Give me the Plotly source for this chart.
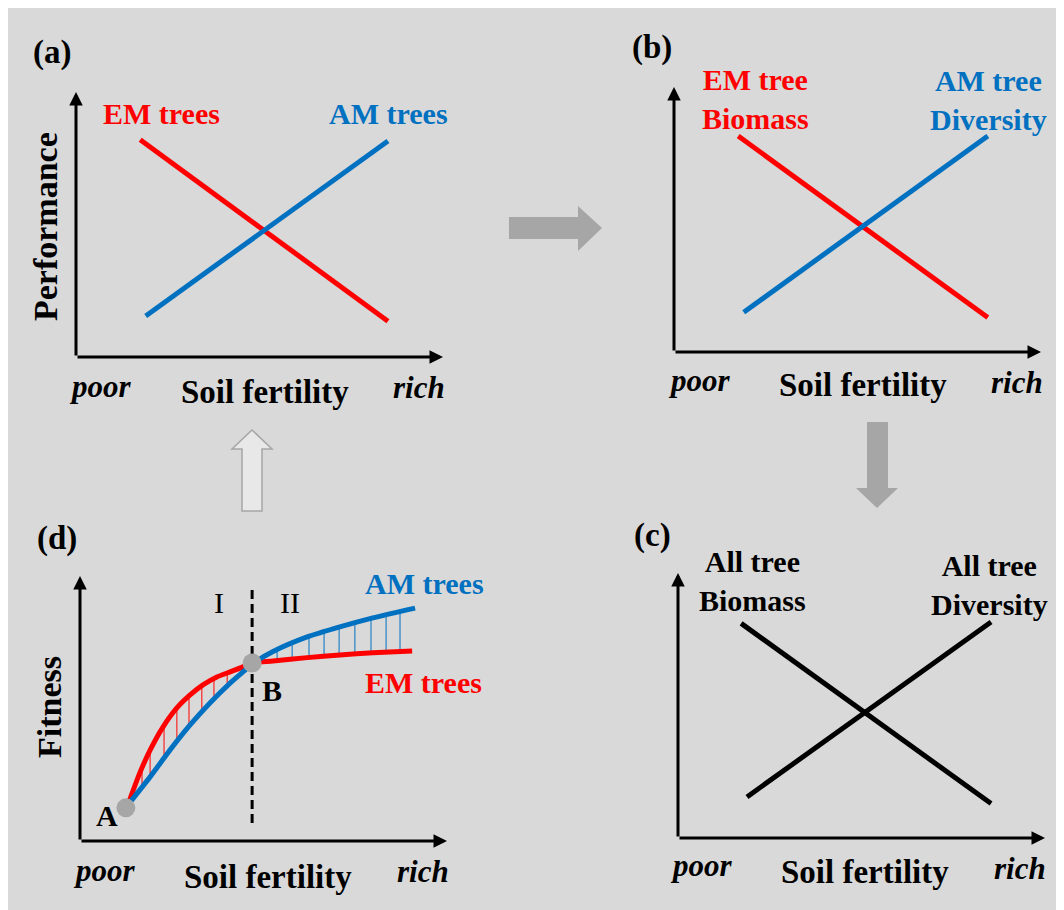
import numpy as np
import plotly.graph_objects as go

W, H = 1064, 910
RED = "#ff0000"
BLUE = "#0070c0"
GREY = "#a6a6a6"
SERIF = "Liberation Serif, Times New Roman, Times, serif"

# ---------------- data (panel units: soil fertility 0-10, response 0-10) -------------
# (a) performance
a_em_x = [1.75, 8.5]
a_em_y = [8.2, 1.35]
a_am_x = [1.9, 8.5]
a_am_y = [1.55, 8.15]
# (b) EM biomass / AM diversity
b_em_x = [1.75, 8.55]
b_em_y = [8.15, 1.3]
b_am_x = [1.9, 8.55]
b_am_y = [1.5, 8.15]
# (c) all-tree biomass / diversity
c_bio_x = [1.72, 8.53]
c_bio_y = [8.1, 1.3]
c_div_x = [1.88, 8.53]
c_div_y = [1.55, 8.15]
# (d) fitness curves
d_em_x = [1.3, 1.63, 1.91, 2.26, 2.64, 3.0, 3.35, 3.73, 4.09, 4.44, 4.69, 5.26, 6.19, 7.08, 7.98, 9.05]
d_em_y = [1.35, 2.57, 3.43, 4.30, 5.02, 5.51, 5.89, 6.19, 6.38, 6.57, 6.72, 6.79, 6.92, 7.02, 7.10, 7.17]
d_am_x = [1.3, 1.91, 2.45, 3.0, 3.54, 4.09, 4.44, 4.69, 5.26, 6.19, 7.08, 7.98, 9.13]
d_am_y = [1.35, 2.42, 3.43, 4.38, 5.21, 5.96, 6.38, 6.68, 7.15, 7.70, 8.08, 8.42, 8.79]
d_points_x = [1.25, 4.69]
d_points_y = [1.25, 6.72]
d_split_x = 4.69
d_split_y = [0.68, 9.58]
hatch_em_x = [1.69, 1.91, 2.29, 2.64, 2.97, 3.32, 3.65, 4.01]
hatch_am_x = [5.37, 5.78, 6.24, 6.65, 7.06, 7.49, 7.93, 8.34, 8.72]

# ---------------- layout helpers ----------------
OFF = 8            # page body margin
PW, PH = 367, 265  # panel axis size in px
origins = {"a": (76, 357), "b": (674, 352), "c": (678, 838), "d": (80, 841)}
axis_ids = {"a": "", "b": "2", "c": "3", "d": "4"}


def P(px, py):
    return (px - OFF) / W, 1 - (py - OFF) / H


fig = go.Figure()
layout_axes = {}
for k, (ox, oy) in origins.items():
    i = axis_ids[k]
    x0, y0 = P(ox, oy)
    x1, y1 = P(ox + PW, oy - PH)
    layout_axes["xaxis" + i] = dict(domain=[x0, x1], range=[0, 10],
                                    visible=False, anchor="y" + i, fixedrange=True)
    layout_axes["yaxis" + i] = dict(domain=[y0, y1], range=[0, 10],
                                    visible=False, anchor="x" + i, fixedrange=True)


def line(k, x, y, color, width=5, **kw):
    i = axis_ids[k]
    fig.add_trace(go.Scatter(x=x, y=y, mode="lines", line=dict(color=color, width=width, **kw),
                             xaxis="x" + i, yaxis="y" + i, showlegend=False, hoverinfo="skip"))


line("a", a_em_x, a_em_y, RED)
line("a", a_am_x, a_am_y, BLUE)
line("b", b_em_x, b_em_y, RED)
line("b", b_am_x, b_am_y, BLUE)
line("c", c_bio_x, c_bio_y, "black")
line("c", c_div_x, c_div_y, "black")


# hatching in (d)
def hatch(xs, top_x, top_y, bot_x, bot_y):
    hx, hy = [], []
    for x in xs:
        hx += [x, x, None]
        hy += [float(np.interp(x, top_x, top_y)), float(np.interp(x, bot_x, bot_y)), None]
    return hx, hy


hx, hy = hatch(hatch_em_x, d_em_x, d_em_y, d_am_x, d_am_y)
line("d", hx, hy, RED, width=1)
hx, hy = hatch(hatch_am_x, d_am_x, d_am_y, d_em_x, d_em_y)
line("d", hx, hy, BLUE, width=1)
line("d", [d_split_x, d_split_x], d_split_y, "black", width=3, dash="9px,5px")
line("d", d_em_x, d_em_y, RED, shape="spline", smoothing=0.6)
line("d", d_am_x, d_am_y, BLUE, shape="spline", smoothing=0.6)
fig.add_trace(go.Scatter(x=d_points_x, y=d_points_y, mode="markers",
                         marker=dict(size=19, color=GREY), xaxis="x4", yaxis="y4",
                         showlegend=False, hoverinfo="skip"))

# ---------------- annotations ----------------
annotations = []
# axis arrows
for k in origins:
    i = axis_ids[k]
    for (tx, ty) in [(10, 0), (0, 10)]:
        annotations.append(dict(x=tx, y=ty, ax=0, ay=0, xref="x" + i, yref="y" + i,
                                axref="x" + i, ayref="y" + i, text="", showarrow=True,
                                arrowhead=2, arrowwidth=3, arrowsize=0.9, arrowcolor="black",
                                standoff=0, startstandoff=0))


def txt(s, px, py, size=30, color="black", bold=True, italic=False, angle=0):
    x, y = P(px, py)
    annotations.append(dict(text=s, x=x, y=y, xref="paper", yref="paper", showarrow=False,
                            xanchor="center", yanchor="middle", textangle=angle,
                            font=dict(family=SERIF, size=size, color=color,
                                      weight="bold" if bold else "normal",
                                      style="italic" if italic else "normal")))


# (a)
txt("(a)", 52, 52, 33)
txt("EM trees", 161, 113, 30, RED)
txt("AM trees", 388, 113, 30, BLUE)
txt("Performance", 45, 227, 34, angle=-90)
txt("poor", 100, 386, 31, italic=True)
txt("Soil fertility", 265, 392, 33)
txt("rich", 419, 387, 31, italic=True)
# (b)
txt("(b)", 652, 48, 33)
txt("EM tree<br>Biomass", 755, 99, 30, RED)
txt("AM tree<br>Diversity", 988, 100, 30, BLUE)
txt("poor", 699, 380, 31, italic=True)
txt("Soil fertility", 863, 385, 33)
txt("rich", 1017, 382, 31, italic=True)
# (c)
txt("(c)", 652, 535, 33)
txt("All tree<br>Biomass", 752, 581, 30)
txt("All tree<br>Diversity", 989, 585, 30)
txt("poor", 701, 865, 31, italic=True)
txt("Soil fertility", 865, 872, 33)
txt("rich", 1020, 868, 31, italic=True)
# (d)
txt("(d)", 57, 538, 33)
txt("AM trees", 424, 583, 30, BLUE)
txt("EM trees", 423, 682, 30, RED)
txt("Fitness", 49, 707, 34, angle=-90)
txt("I", 219, 602, 30, bold=False)
txt("II", 290, 602, 30, bold=False)
txt("B", 272, 690, 30)
txt("A", 107, 815, 30)
txt("poor", 104, 870, 31, italic=True)
txt("Soil fertility", 268, 877, 33)
txt("rich", 423, 871, 31, italic=True)


# ---------------- shapes (flow arrows) ----------------
def path(pts):
    s = ""
    for j, (px, py) in enumerate(pts):
        x, y = P(px, py)
        s += ("M" if j == 0 else "L") + f"{x:.5f},{y:.5f}"
    return s + "Z"


shapes = [
    dict(type="path", xref="paper", yref="paper",
         path=path([(509, 217), (578, 217), (578, 206), (602, 228), (578, 251), (578, 239), (509, 239)]),
         fillcolor=GREY, line=dict(width=0), layer="below"),
    dict(type="path", xref="paper", yref="paper",
         path=path([(867, 422), (888, 422), (888, 488), (898, 488), (877, 508), (856, 488), (867, 488)]),
         fillcolor=GREY, line=dict(width=0), layer="below"),
    dict(type="path", xref="paper", yref="paper",
         path=path([(252, 430), (272, 449), (262, 449), (262, 511), (242, 511), (242, 449), (232, 449)]),
         fillcolor="#e8e8e8", line=dict(width=1.5, color=GREY), layer="below"),
]

fig.update_layout(
    width=W, height=H, margin=dict(l=0, r=0, t=0, b=0),
    paper_bgcolor="#d9d9d9", plot_bgcolor="rgba(0,0,0,0)",
    showlegend=False, annotations=annotations, shapes=shapes, **layout_axes,
)
fig.write_html("out.html", config={"displayModeBar": False})
